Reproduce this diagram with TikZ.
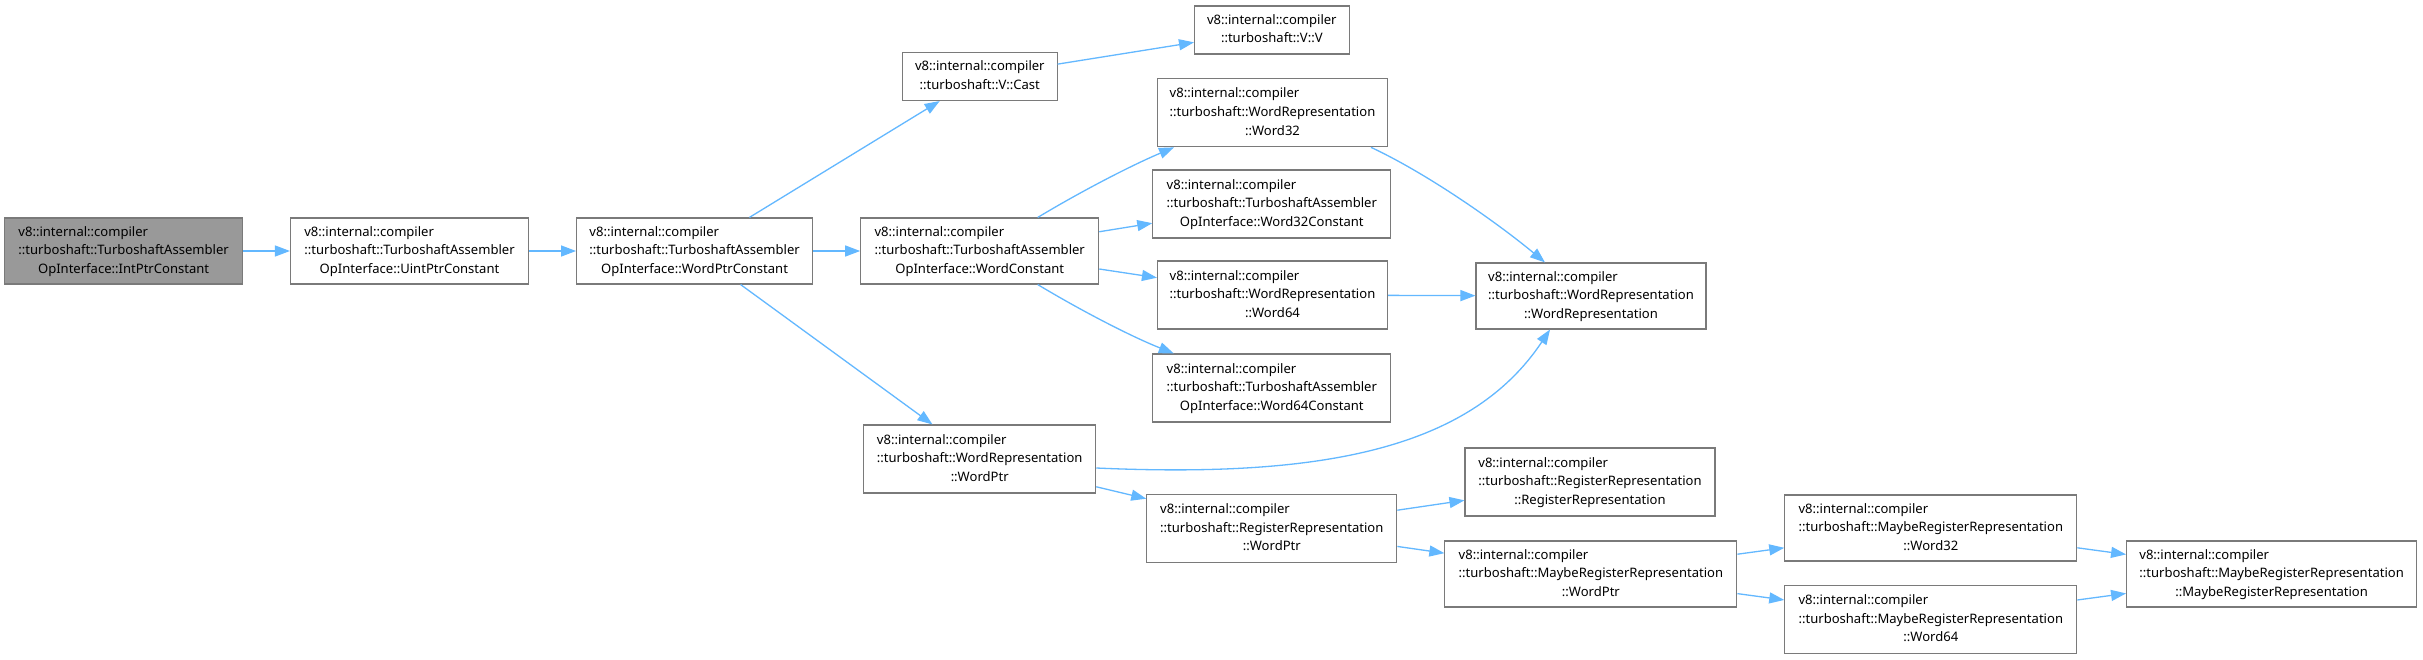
\documentclass[tikz,border=0pt]{standalone}
\usepackage{fontspec}
\setmainfont{Noto Sans}
\usetikzlibrary{arrows.meta,calc}
\definecolor{edgeblue}{HTML}{63B8FF}
\definecolor{boxgray}{HTML}{7A7A7A}
\definecolor{fillgray}{HTML}{999999}
\newcommand{\threel}[3]{\begin{tabular}{@{}l@{}}#1\\#2\\\multicolumn{1}{@{}c@{}}{#3}\end{tabular}}
\newcommand{\twol}[2]{\begin{tabular}{@{}l@{}}#1\\\multicolumn{1}{@{}c@{}}{#2}\end{tabular}}
\tikzset{
  box/.style={draw=boxgray, line width=1.1bp, fill=white, inner sep=0pt, text=black,
    font=\fontsize{13.1}{18.6}\selectfont, minimum height=66bp},
  curbox/.style={box, fill=fillgray},
  edge/.style={draw=edgeblue, line width=1.3bp, -{Triangle[length=15bp,width=11bp]}},
}
\begin{document}
\begin{tikzpicture}[x=1bp,y=-1bp]
\useasboundingbox (0,0) rectangle (2423,660);
\fill[white] (0,0) rectangle (2423,660);

\node[curbox, minimum width=238bp] (n1) at (123.6,251) {\threel{v8::internal::compiler}{::turboshaft::TurboshaftAssembler}{OpInterface::IntPtrConstant}};
\node[box, minimum width=238bp] (n2) at (409.5,251) {\threel{v8::internal::compiler}{::turboshaft::TurboshaftAssembler}{OpInterface::UintPtrConstant}};
\node[box, minimum width=236bp] (n3) at (694.6,251) {\threel{v8::internal::compiler}{::turboshaft::TurboshaftAssembler}{OpInterface::WordPtrConstant}};
\node[box, minimum width=154.5bp, minimum height=48bp] (n4) at (979.8,76.5) {\twol{v8::internal::compiler}{::turboshaft::V::Cast}};
\node[box, minimum width=154.5bp, minimum height=48bp] (n5) at (1271.8,30) {\twol{v8::internal::compiler}{::turboshaft::V::V}};
\node[box, minimum width=238bp] (n6) at (979.7,251) {\threel{v8::internal::compiler}{::turboshaft::TurboshaftAssembler}{OpInterface::WordConstant}};
\node[box, minimum width=230bp, minimum height=68bp] (n7) at (1272.5,112.8) {\threel{v8::internal::compiler}{::turboshaft::WordRepresentation}{::Word32}};
\node[box, minimum width=238bp, minimum height=68bp] (n8) at (1271.8,204) {\threel{v8::internal::compiler}{::turboshaft::TurboshaftAssembler}{OpInterface::Word32Constant}};
\node[box, minimum width=230bp, minimum height=68bp] (n9) at (1272.5,295) {\threel{v8::internal::compiler}{::turboshaft::WordRepresentation}{::Word64}};
\node[box, minimum width=238bp, minimum height=68bp] (n10) at (1271.8,388) {\threel{v8::internal::compiler}{::turboshaft::TurboshaftAssembler}{OpInterface::Word64Constant}};
\node[box, minimum width=230bp] (n11) at (1591,296) {\threel{v8::internal::compiler}{::turboshaft::WordRepresentation}{::WordRepresentation}};
\node[box, minimum width=232bp, minimum height=68bp] (n12) at (979.7,459) {\threel{v8::internal::compiler}{::turboshaft::WordRepresentation}{::WordPtr}};
\node[box, minimum width=250bp, minimum height=68bp] (n13) at (1271.8,528.5) {\threel{v8::internal::compiler}{::turboshaft::RegisterRepresentation}{::WordPtr}};
\node[box, minimum width=250bp, minimum height=68bp] (n14) at (1590,482) {\threel{v8::internal::compiler}{::turboshaft::RegisterRepresentation}{::RegisterRepresentation}};
\node[box, minimum width=292bp] (n15) at (1590.9,574) {\threel{v8::internal::compiler}{::turboshaft::MaybeRegisterRepresentation}{::WordPtr}};
\node[box, minimum width=292bp] (n16) at (1930.8,528) {\threel{v8::internal::compiler}{::turboshaft::MaybeRegisterRepresentation}{::Word32}};
\node[box, minimum width=292bp, minimum height=68bp] (n17) at (1930.8,619.6) {\threel{v8::internal::compiler}{::turboshaft::MaybeRegisterRepresentation}{::Word64}};
\node[box, minimum width=290bp] (n18) at (2271.6,574) {\threel{v8::internal::compiler}{::turboshaft::MaybeRegisterRepresentation}{::MaybeRegisterRepresentation}};

\draw[edge] (n1) -- (n2);
\draw[edge] (n2) -- (n3);
\draw[edge] (n3) -- (n4);
\draw[edge] (n3) -- (n6);
\draw[edge] (n3) -- (n12);
\draw[edge] (n4) -- (n5);
\draw[edge] ($(n6.north)+(58,0)$) .. controls (1080,192) and (1130,166) .. ($(n7.south)+(-98.5,0)$);
\draw[edge] (n6) -- (n8);
\draw[edge] (n6) -- (n9);
\draw[edge] ($(n6.south)+(58,0)$) .. controls (1080,310) and (1130,336) .. ($(n10.north)+(-98,0)$);
\draw[edge] ($(n7.south)+(98.5,0)$) .. controls (1430,175) and (1500,225) .. ($(n11.north)+(-46,0)$);
\draw[edge] (n9) -- (n11);
\draw[edge] ($(n12.east)+(0,9)$) .. controls (1320,478) and (1470,450) .. ($(n11.south)+(-41,0)$);
\draw[edge] (n12) -- (n13);
\draw[edge] (n13) -- (n14);
\draw[edge] (n13) -- (n15);
\draw[edge] (n15) -- (n16);
\draw[edge] (n15) -- (n17);
\draw[edge] (n16) -- (n18);
\draw[edge] (n17) -- (n18);
\end{tikzpicture}
\end{document}
